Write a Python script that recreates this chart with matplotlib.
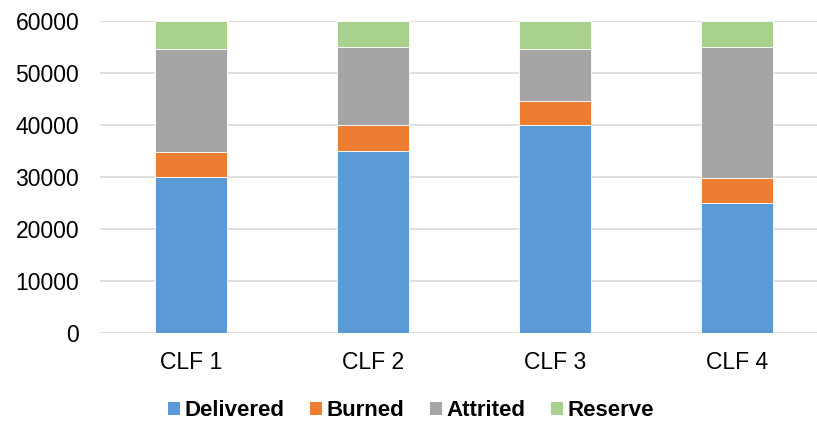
import matplotlib
matplotlib.use("Agg")
import matplotlib.pyplot as plt
from matplotlib.patches import Patch
import numpy as np

categories = ["CLF 1", "CLF 2", "CLF 3", "CLF 4"]
delivered = [30000, 35000, 40000, 25000]
burned = [4900, 5000, 4700, 4800]
attrited = [19800, 15100, 10000, 25300]
reserve = [5300, 4900, 5300, 4900]
series_names = ["Delivered", "Burned", "Attrited", "Reserve"]
colors = ["#5B9BD5", "#ED7D31", "#A5A5A5", "#A9D18E"]
y_ticks = [0, 10000, 20000, 30000, 40000, 50000, 60000]

plt.rcParams["font.family"] = ["Liberation Sans", "DejaVu Sans"]

fig = plt.figure(figsize=(8.17, 4.22), dpi=100)
ax = fig.add_axes([100 / 817, 1 - 333.3 / 422, 728 / 817, 312.3 / 422])

x = np.arange(len(categories))
bottom = np.zeros(len(categories))
for vals, col in zip([delivered, burned, attrited, reserve], colors):
    ax.bar(x, vals, width=0.4, bottom=bottom, color=col,
           edgecolor="white", linewidth=0.6, zorder=3)
    bottom += np.array(vals)

ax.set_xlim(-0.5, 3.5)
ax.set_ylim(0, 60000)
ax.set_yticks(y_ticks)
ax.set_yticklabels([str(v) for v in y_ticks])
ax.set_xticks(x)
ax.set_xticklabels(categories)
ax.tick_params(axis="both", length=0, labelsize=16.5, colors="#000000")
ax.tick_params(axis="y", pad=15)
ax.tick_params(axis="x", pad=13)

ax.grid(axis="y", color="#D9D9D9", linewidth=1.1, zorder=0)
ax.set_axisbelow(True)
for s in ax.spines.values():
    s.set_visible(False)

handles = [Patch(facecolor=c, edgecolor="none") for c in colors]
fig.legend(handles, series_names, loc="center", bbox_to_anchor=(0.503, 0.027),
           bbox_transform=fig.transFigure, ncol=4, frameon=False,
           prop={"weight": "bold", "size": 16}, handlelength=0.55,
           handleheight=0.55, handletextpad=0.21, columnspacing=1.13,
           borderpad=0, borderaxespad=0)

fig.savefig("out.png", dpi=100)
